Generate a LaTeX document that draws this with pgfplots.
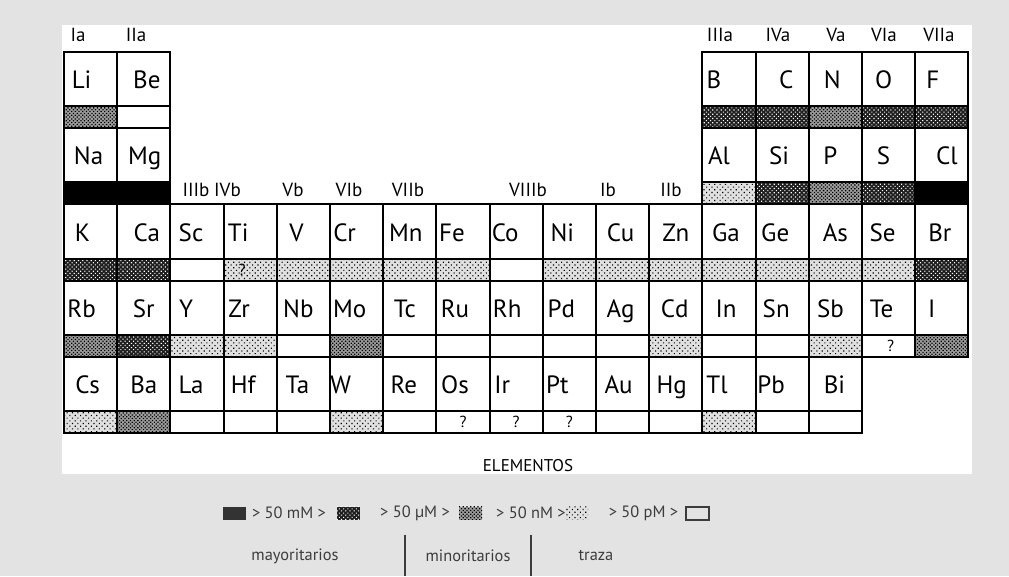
\documentclass[border=0pt]{standalone}
\usepackage{pgfplots}
\pgfplotsset{compat=1.18}
\usepackage{pgfplotstable}
\usepackage{fontspec}
\setmainfont{PT Sans}
\usetikzlibrary{patterns.meta}
\definecolor{bgcol}{RGB}{227,227,227}
\definecolor{legtxt}{RGB}{60,60,60}

% element symbols: column c (1-17), period r, horizontal text offset dx (px)
\pgfplotstableread{
el c r dx
Li 1 2 -9
Be 2 2 3
B 13 2 -15
C 14 2 4
N 15 2 -3
O 16 2 -5
F 17 2 -9
Na 1 3 -2
Mg 2 3 1
Al 13 3 -10
Si 14 3 -3
P 15 3 -5
S 16 3 -5
Cl 17 3 5
K 1 4 -8
Ca 2 4 3
Sc 3 4 -6
Ti 4 4 -12
V 5 4 -7
Cr 6 4 -12
Mn 7 4 -4
Fe 8 4 -11
Co 9 4 -11
Ni 10 4 -7
Cu 11 4 -2
Zn 12 4 0
Ga 13 4 -3
Ge 14 4 -7
As 15 4 0
Se 16 4 -6
Br 17 4 -2
Rb 1 5 -9
Sr 2 5 0
Y 3 5 -11
Zr 4 5 -11
Nb 5 5 -5
Mo 6 5 -7
Tc 7 5 -5
Ru 8 5 -8
Rh 9 5 -9
Pd 10 5 -8
Ag 11 5 -2
Cd 12 5 -1
In 13 5 -3
Sn 14 5 -6
Sb 15 5 -5
Te 16 5 -7
I 17 5 -10
Cs 1 6 -3
Ba 2 6 0
La 3 6 -6
Hf 4 6 -7
Ta 5 6 -6
W 6 6 -16
Re 7 6 -6
Os 8 6 -8
Ir 9 6 -14
Pt 10 6 -12
Au 11 6 -4
Hg 12 6 -4
Tl 13 6 -12
Pb 14 6 -11
Bi 15 6 -1
}\elements

% concentration level 4: > 50 mM
\pgfplotstableread{
el c r
Na 1 3
Mg 2 3
Cl 17 3
}\levfour
% level 3: > 50 uM
\pgfplotstableread{
el c r
B 13 2
C 14 2
O 16 2
F 17 2
Si 14 3
S 16 3
K 1 4
Ca 2 4
Br 17 4
Sr 2 5
}\levthree
% level 2: > 50 nM
\pgfplotstableread{
el c r
Li 1 2
N 15 2
P 15 3
Rb 1 5
Mo 6 5
I 17 5
Ba 2 6
}\levtwo
% level 1: > 50 pM
\pgfplotstableread{
el c r
Al 13 3
Ti 4 4
V 5 4
Cr 6 4
Mn 7 4
Fe 8 4
Ni 10 4
Cu 11 4
Zn 12 4
Ga 13 4
Ge 14 4
As 15 4
Se 16 4
Y 3 5
Zr 4 5
Cd 12 5
Sb 15 5
Cs 1 6
W 6 6
Tl 13 6
}\levone
% level 0: below 50 pM
\pgfplotstableread{
el c r
Be 2 2
Sc 3 4
Co 9 4
Nb 5 5
Tc 7 5
Ru 8 5
Rh 9 5
Pd 10 5
Ag 11 5
In 13 5
Sn 14 5
Te 16 5
La 3 6
Hf 4 6
Ta 5 6
Re 7 6
Os 8 6
Ir 9 6
Pt 10 6
Au 11 6
Hg 12 6
Pb 14 6
Bi 15 6
}\levzero
% uncertain values (?)
\pgfplotstableread{
el c r dx
Ti 4 4 -8
Te 16 5 2
Os 8 6 0
Ir 9 6 0
Pt 10 6 0
}\quest

\newcommand{\cx}{64+53.2*(\thisrow{c}-0.5)}
\newcommand{\ly}{52+76.25*(\thisrow{r}-2)+27.125}
\newcommand{\sy}{52+76.25*(\thisrow{r}-2)+65.25}

\tikzset{
  lv4/.style={fill=black},
  lv3/.style={preaction={fill=black!88}, pattern color=white, pattern={Dots[distance=1.5pt, radius=0.38pt, angle=45]}},
  lv2/.style={preaction={fill=black!38}, pattern color=black, pattern={Dots[distance=1.3pt, radius=0.45pt, angle=45]}},
  lv1/.style={preaction={fill=black!12}, pattern color=black, pattern={Dots[distance=1.9pt, radius=0.4pt, angle=45]}},
  lv0/.style={},
}
\pgfplotsset{
  cellbox/.style 2 args={only marks, mark=none, nodes near coords={\mbox{}},
    every node near coord/.append style={anchor=center, draw=black, line width=1pt,
      inner sep=0pt, outer sep=0pt, minimum width=26.6pt, minimum height=#1, #2}},
}

\begin{document}
\begin{tikzpicture}
\fill[bgcol] (0,0) rectangle (504.5pt,288pt);
\fill[white] (31pt,51pt) rectangle (486pt,275.5pt);
\begin{axis}[
  at={(0,0)}, anchor=south west,
  width=504.5pt, height=288pt, scale only axis,
  xmin=0, xmax=1009, ymin=0, ymax=576, y dir=reverse,
  hide axis, clip=false,
]
% label boxes
\addplot[cellbox={27.125pt}{}] table[x expr=\cx, y expr=\ly] {\elements};
% concentration strips
\addplot[cellbox={11pt}{lv0}] table[x expr=\cx, y expr=\sy] {\levzero};
\addplot[cellbox={11pt}{lv1}] table[x expr=\cx, y expr=\sy] {\levone};
\addplot[cellbox={11pt}{lv2}] table[x expr=\cx, y expr=\sy] {\levtwo};
\addplot[cellbox={11pt}{lv3}] table[x expr=\cx, y expr=\sy] {\levthree};
\addplot[cellbox={11pt}{lv4}] table[x expr=\cx, y expr=\sy] {\levfour};
% element symbols
\addplot[only marks, mark=none, point meta=explicit symbolic,
  visualization depends on={\thisrow{dx} \as \dx},
  nodes near coords={\pgfplotspointmeta},
  every node near coord/.append style={anchor=base, inner sep=0pt,
    font=\fontsize{12.5}{14}\selectfont, xshift={\dx*0.5pt}, yshift=-4.8pt}]
  table[x expr=\cx, y expr=\ly, meta=el] {\elements};
% question marks
\addplot[only marks, mark=none,
  visualization depends on={\thisrow{dx} \as \dqx},
  nodes near coords={?},
  every node near coord/.append style={anchor=center, inner sep=0pt,
    font=\fontsize{8}{9}\selectfont, xshift={\dqx*0.5pt}}]
  table[x expr=\cx, y expr=\sy] {\quest};

% group labels
\begin{scope}[every node/.style={font=\fontsize{9.5}{10}\selectfont, inner sep=0pt}]
\node at (78,35) {Ia};
\node at (136,35) {IIa};
\node at (720,35) {IIIa};
\node at (778,35) {IVa};
\node at (836,35) {Va};
\node at (884,35) {VIa};
\node at (939,35) {VIIa};
\node at (196,190) {IIIb};
\node at (227.5,190) {IVb};
\node at (293,190) {Vb};
\node at (349,190) {VIb};
\node at (408,190) {VIIb};
\node at (528,190) {VIIIb};
\node at (608,190) {Ib};
\node at (671,190) {IIb};
\end{scope}
\node[font=\fontsize{8.5}{10}\selectfont, inner sep=0pt] at (528,466) {ELEMENTOS};

% legend
\begin{scope}[every node/.style={inner sep=0pt, outer sep=0pt, font=\fontsize{8.2}{10}\selectfont, text=legtxt}]
\node[minimum width=11.5pt, minimum height=6.5pt, fill=black!80] at (234.5,513.5) {};
\node at (289,513) {> 50 mM >};
\node[minimum width=11.5pt, minimum height=6.5pt, lv3] at (348.5,513.5) {};
\node at (415,513) {> 50 µM >};
\node[minimum width=11.5pt, minimum height=6.5pt, lv2] at (470.5,513.5) {};
\node at (531,513) {> 50 nM >};
\node[minimum width=11.5pt, minimum height=6.5pt, lv1] at (576.5,513.5) {};
\node at (643.5,513) {> 50 pM >};
\node[minimum width=11.5pt, minimum height=6.5pt, draw=legtxt, line width=0.6pt] at (697.5,513.5) {};
\node at (295,556) {mayoritarios};
\node at (468,556) {minoritarios};
\node at (596,556) {traza};
\end{scope}
\draw[legtxt, line width=0.7pt] (405,535) -- (405,576);
\draw[legtxt, line width=0.7pt] (531,535) -- (531,576);
\end{axis}
\end{tikzpicture}
\end{document}
